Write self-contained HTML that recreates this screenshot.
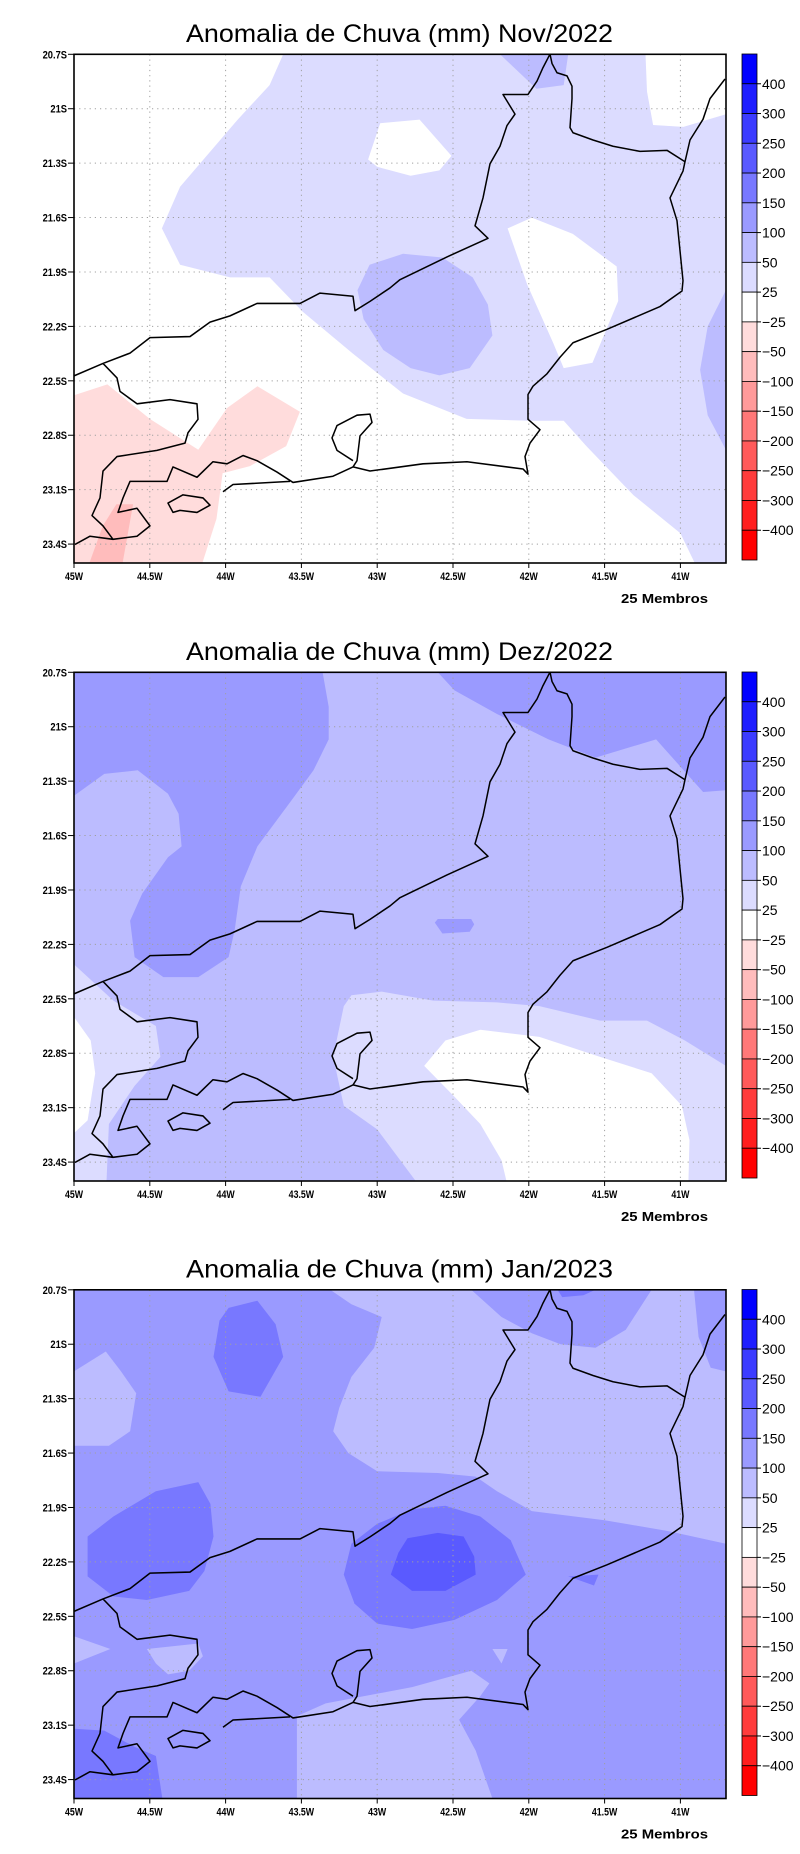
<!DOCTYPE html>
<html><head><meta charset="utf-8">
<style>
html,body{margin:0;padding:0;background:#fff;}
svg{display:block;font-family:"Liberation Sans",sans-serif;}
</style></head>
<body>
<svg id="chart" width="800" height="1854" viewBox="0 0 800 1854" xmlns="http://www.w3.org/2000/svg"></svg>
<script>
// ---- colour scale data ----
const levelLabels = ["400","300","250","200","150","100","50","25","\u221225","\u221250","\u2212100","\u2212150","\u2212200","\u2212250","\u2212300","\u2212400"];
const levelColors = ["#0000ff","#1e1eff","#3c3cff","#5a5aff","#7878ff","#9a9aff","#bcbcff","#dcdcff","#ffffff","#ffdcdc","#ffbcbc","#ff9a9a","#ff7878","#ff5a5a","#ff3c3c","#ff1e1e","#ff0000"];
const lonTicks = [-45,-44.5,-44,-43.5,-43,-42.5,-42,-41.5,-41];
const lonTickLabels = ["45W","44.5W","44W","43.5W","43W","42.5W","42W","41.5W","41W"];
const latTicks = [20.7,21,21.3,21.6,21.9,22.2,22.5,22.8,23.1,23.4];
const latTickLabels = ["20.7S","21S","21.3S","21.6S","21.9S","22.2S","22.5S","22.8S","23.1S","23.4S"];
const panelTitles = ["Anomalia de Chuva (mm) Nov/2022","Anomalia de Chuva (mm) Dez/2022","Anomalia de Chuva (mm) Jan/2023"];
// background class index per panel (index into levelColors)
const panelBase = [8,6,5];
// contour regions: [colour index, [[lonW, latS],...]]
const novRegions = [
 [7,[[-43.62,20.7],[-41.23,20.7],[-41.22,20.905],[-41.18,21.09],[-40.98,21.10],[-40.70,21.03],[-40.70,23.6],[-40.85,23.6],[-41.0,23.34],[-41.31,23.13],[-41.62,22.86],[-41.77,22.72],[-41.99,22.72],[-42.41,22.71],[-42.83,22.57],[-43.16,22.35],[-43.49,22.12],[-43.71,21.93],[-43.97,21.93],[-44.30,21.86],[-44.42,21.66],[-44.30,21.43],[-43.92,21.06],[-43.71,20.87]]],
 [8,[[-42.98,21.08],[-42.72,21.06],[-42.51,21.26],[-42.59,21.34],[-42.78,21.37],[-43.0,21.32],[-43.06,21.28]]],
 [8,[[-42.14,21.66],[-41.98,21.60],[-41.71,21.69],[-41.42,21.87],[-41.41,22.06],[-41.58,22.40],[-41.77,22.43],[-41.84,22.29],[-42.01,21.97]]],
 [6,[[-43.05,21.86],[-42.83,21.80],[-42.57,21.82],[-42.37,21.93],[-42.27,22.08],[-42.24,22.25],[-42.39,22.43],[-42.59,22.47],[-42.78,22.43],[-42.96,22.33],[-43.09,22.16],[-43.13,22.0]]],
 [6,[[-42.19,20.7],[-41.95,20.89],[-41.77,20.87],[-41.74,20.7]]],
 [6,[[-40.70,22.0],[-40.82,22.2],[-40.87,22.44],[-40.82,22.69],[-40.70,22.88]]],
 [9,[[-45,22.58],[-44.78,22.52],[-44.50,22.71],[-44.18,22.88],[-43.99,22.65],[-43.79,22.53],[-43.51,22.67],[-43.60,22.86],[-43.84,22.97],[-44.02,23.01],[-44.06,23.26],[-44.19,23.6],[-45,23.6]]],
 [10,[[-44.72,23.18],[-44.61,23.18],[-44.70,23.6],[-44.94,23.6],[-44.81,23.30]]]
];
const dezRegions = [
 [5,[[-45,20.7],[-43.36,20.7],[-43.32,20.89],[-43.32,21.07],[-43.42,21.24],[-43.56,21.40],[-43.79,21.66],[-43.90,21.88],[-43.94,22.12],[-43.98,22.27],[-44.18,22.38],[-44.41,22.38],[-44.60,22.27],[-44.63,22.07],[-44.55,21.92],[-44.38,21.72],[-44.29,21.66],[-44.31,21.48],[-44.38,21.37],[-44.58,21.24],[-44.80,21.26],[-45,21.38]]],
 [5,[[-42.60,20.7],[-40.70,20.7],[-40.70,21.35],[-40.85,21.36],[-41.16,21.07],[-41.56,21.17],[-41.87,21.07],[-42.21,20.93],[-42.49,20.80]]],
 [5,[[-42.60,22.06],[-42.38,22.06],[-42.36,22.09],[-42.39,22.13],[-42.57,22.14],[-42.62,22.08]]],
 [7,[[-45,22.31],[-44.74,22.51],[-44.46,22.65],[-44.43,22.82],[-44.60,22.98],[-44.77,23.19],[-44.79,23.6],[-45,23.6]]],
 [8,[[-45,22.60],[-44.89,22.73],[-44.86,22.91],[-44.91,23.17],[-45,23.24]]],
 [7,[[-42.66,23.6],[-43.0,23.22],[-43.22,23.09],[-43.29,22.82],[-43.22,22.54],[-43.17,22.48],[-42.97,22.46],[-42.63,22.51],[-42.21,22.52],[-41.93,22.54],[-41.53,22.62],[-41.22,22.62],[-40.97,22.73],[-40.70,22.87],[-40.70,23.6]]],
 [8,[[-42.69,22.87],[-42.55,22.73],[-42.32,22.67],[-41.93,22.71],[-41.53,22.82],[-41.19,22.91],[-40.99,23.09],[-40.94,23.28],[-40.95,23.6],[-42.12,23.6],[-42.18,23.39],[-42.32,23.19],[-42.49,23.04]]]
];
const janRegions = [
 [6,[[-43.31,20.7],[-42.38,20.7],[-42.18,20.85],[-41.98,20.94],[-41.79,21.0],[-41.56,21.02],[-41.36,20.92],[-41.19,20.7],[-40.91,20.7],[-40.88,20.96],[-40.80,21.13],[-40.70,21.15],[-40.70,22.10],[-41.08,22.03],[-41.50,21.97],[-41.98,21.92],[-42.21,21.81],[-42.35,21.73],[-42.60,21.71],[-43.0,21.70],[-43.19,21.60],[-43.29,21.48],[-43.25,21.35],[-43.17,21.18],[-43.02,21.02],[-42.97,20.85],[-43.17,20.78]]],
 [6,[[-45,21.15],[-44.79,21.04],[-44.69,21.15],[-44.59,21.27],[-44.63,21.48],[-44.77,21.56],[-45,21.56]]],
 [6,[[-45,22.61],[-44.76,22.68],[-45,22.76]]],
 [6,[[-44.52,22.68],[-44.18,22.65],[-44.15,22.72],[-44.24,22.80],[-44.38,22.82],[-44.46,22.76]]],
 [6,[[-43.53,23.6],[-43.53,23.05],[-43.34,22.98],[-42.77,22.89],[-42.38,22.80],[-42.26,22.87],[-42.32,22.94],[-42.46,23.07],[-42.35,23.24],[-42.2,23.6]]],
 [6,[[-42.24,22.68],[-42.14,22.68],[-42.18,22.76]]],
 [4,[[-43.98,20.80],[-43.79,20.76],[-43.67,20.89],[-43.62,21.07],[-43.77,21.29],[-43.98,21.26],[-44.08,21.07],[-44.04,20.87]]],
 [4,[[-44.91,22.06],[-44.74,21.95],[-44.46,21.81],[-44.18,21.76],[-44.10,21.88],[-44.08,22.06],[-44.14,22.25],[-44.24,22.36],[-44.52,22.41],[-44.74,22.39],[-44.91,22.28]]],
 [4,[[-43.22,22.27],[-43.17,22.10],[-43.0,21.99],[-42.77,21.91],[-42.55,21.89],[-42.32,21.95],[-42.12,22.08],[-42.02,22.27],[-42.21,22.41],[-42.49,22.52],[-42.77,22.57],[-43.0,22.54],[-43.15,22.43]]],
 [4,[[-41.74,22.28],[-41.54,22.27],[-41.57,22.33]]],
 [4,[[-45,23.12],[-44.80,23.13],[-44.60,23.22],[-44.46,23.27],[-44.4,23.6],[-45,23.6]]],
 [4,[[-41.81,20.70],[-41.56,20.70],[-41.64,20.73],[-41.78,20.74]]],
 [3,[[-42.80,22.07],[-42.60,22.04],[-42.43,22.06],[-42.36,22.17],[-42.35,22.27],[-42.55,22.36],[-42.77,22.36],[-42.91,22.27],[-42.86,22.15]]]
];
const panelRegions = [novRegions, dezRegions, janRegions];

// ---- basemap (panel-local pixel outline, not data) ----
const coastPath = "M74,365 L103,353 130,343 150,328 190,327 210,313 230,307 257,295 300,295 320,285 353,288 355,302 370,293 390,280 400,272 447,250 488,232 475,220 483,193 490,160 500,143 507,123 515,112 503,93 528,93 537,80 543,67 550,54 " +
 "M550,54 L552,63 557,72 567,75 572,85 572,97 570,125 573,130 593,137 613,143 640,148 667,147 685,158 " +
 "M685,158 L690,137 703,117 710,97 725,78 " +
 "M685,158 L683,167 670,193 677,215 683,273 682,283 660,298 607,320 573,333 560,347 547,363 533,375 528,383 528,407 540,417 530,430 525,443 528,460 523,455 467,448 423,450 370,457 353,453 357,447 360,423 372,410 370,402 357,403 337,413 332,425 337,437 353,447 M353,453 L333,462 293,468 277,458 257,447 243,442 227,450 213,448 197,463 173,453 167,467 130,467 123,483 118,497 137,493 150,510 137,520 113,523 90,520 75,528 " +
 "M223,477 L233,470 290,467 " +
 "M103,353 L117,367 120,380 137,392 170,388 197,392 198,407 188,420 185,430 157,437 117,443 103,457 100,483 92,500 103,510 113,523 " +
 "M168,488 L183,480 203,483 210,490 197,497 180,495 173,497 Z";

const NS = "http://www.w3.org/2000/svg";
const svg = document.getElementById("chart");
const X0 = 74, X1 = 726, Y0 = 54.3, Y1 = 563;
const panelOffsets = [0, 618, 1235.5];
function xScale(lon){ return X0 + (lon + 45) * 151.6; }
function yScale(lat, off){ return off + Y0 + (lat - 20.7) * 181.4; }
function mk(tag, attrs, parent){
  const e = document.createElementNS(NS, tag);
  for (const k in attrs) e.setAttribute(k, attrs[k]);
  (parent || svg).appendChild(e);
  return e;
}

panelTitles.forEach((title, p) => {
  const off = panelOffsets[p];
  const g = mk("g", {});
  
  

  const t = mk("text", {x: 186, y: off + 42, "font-size": 25, textLength: 427, lengthAdjust: "spacingAndGlyphs", fill: "#000"}, g);
  t.textContent = title;
  
  

  const cp = mk("clipPath", {id: "clip" + p}, g);
  mk("rect", {x: X0, y: off + Y0, width: X1 - X0, height: Y1 - Y0}, cp);

  const plot = mk("g", {"clip-path": "url(#clip" + p + ")"}, g);
  
  
  const bg = mk("rect", {x: X0, y: off + Y0, width: X1 - X0, height: Y1 - Y0, fill: levelColors[panelBase[p]]}, plot);
  
  
  panelRegions[p].forEach(r => {
    const pts = r[1].map(q => xScale(q[0]).toFixed(1) + "," + yScale(q[1], off).toFixed(1)).join(" ");
    const poly = mk("polygon", {points: pts, fill: levelColors[r[0]]}, plot);
    
    
  });
  // grid
  lonTicks.slice(1).forEach(lon => {
    const l = mk("line", {x1: xScale(lon), x2: xScale(lon), y1: off + Y0, y2: off + Y1, stroke: "#a0a0a0", "stroke-width": 1, "stroke-dasharray": "1.2,4"}, plot);
    
    
  });
  latTicks.slice(1).forEach(lat => {
    const l = mk("line", {x1: X0, x2: X1, y1: yScale(lat, off), y2: yScale(lat, off), stroke: "#a0a0a0", "stroke-width": 1, "stroke-dasharray": "1.2,4"}, plot);
    
    
  });
  const coast = mk("path", {d: coastPath, fill: "none", stroke: "#000", "stroke-width": 1.5, "stroke-linejoin": "round",
    transform: "translate(0," + off + ") matrix(1,0,0,1.0345,0,-1.724)"}, plot);
  
  

  const frame = mk("rect", {x: X0, y: off + Y0, width: X1 - X0, height: Y1 - Y0, fill: "none", stroke: "#000", "stroke-width": 1.6}, g);
  
  

  latTicks.forEach((lat, i) => {
    const y = yScale(lat, off);
    mk("line", {x1: X0 - 6, x2: X0, y1: y, y2: y, stroke: "#000", "stroke-width": 1}, g);
    const tx = mk("text", {x: X0 - 7, y: y + 4, "font-size": 11, "font-weight": "bold", "text-anchor": "end", transform: "translate(" + (X0 - 7) + ",0) scale(0.85,1) translate(" + (-(X0 - 7)) + ",0)"}, g);
    tx.textContent = latTickLabels[i];
    
    
  });
  lonTicks.forEach((lon, i) => {
    const x = xScale(lon);
    mk("line", {x1: x, x2: x, y1: off + Y1, y2: off + Y1 + 5, stroke: "#000", "stroke-width": 1}, g);
    const tx = mk("text", {x: x, y: off + Y1 + 17, "font-size": 11, "font-weight": "bold", "text-anchor": "middle", transform: "translate(" + x + ",0) scale(0.8,1) translate(" + (-x) + ",0)"}, g);
    tx.textContent = lonTickLabels[i];
    
    
  });
  const mem = mk("text", {x: 621, y: off + 603, "font-size": 13, "font-weight": "bold", textLength: 87, lengthAdjust: "spacingAndGlyphs"}, g);
  mem.textContent = "25 Membros";
  
  

  // colour bar
  const cb = mk("g", {}, g);
  
  
  const cbTop = off + 54, cbH = 506, bh = cbH / levelColors.length;
  levelColors.forEach((c, i) => {
    const r = mk("rect", {x: 742, y: cbTop + i * bh, width: 15, height: bh, fill: c, stroke: "#000", "stroke-width": 0.8}, cb);
    
    
  });
  levelLabels.forEach((lab, i) => {
    const y = cbTop + (i + 1) * bh;
    mk("line", {x1: 757, x2: 761, y1: y, y2: y, stroke: "#000", "stroke-width": 1}, cb);
    const tx = mk("text", {x: 762, y: y + 5, "font-size": 14}, cb);
    tx.textContent = lab;
    
    
  });
});
</script>
</body></html>
